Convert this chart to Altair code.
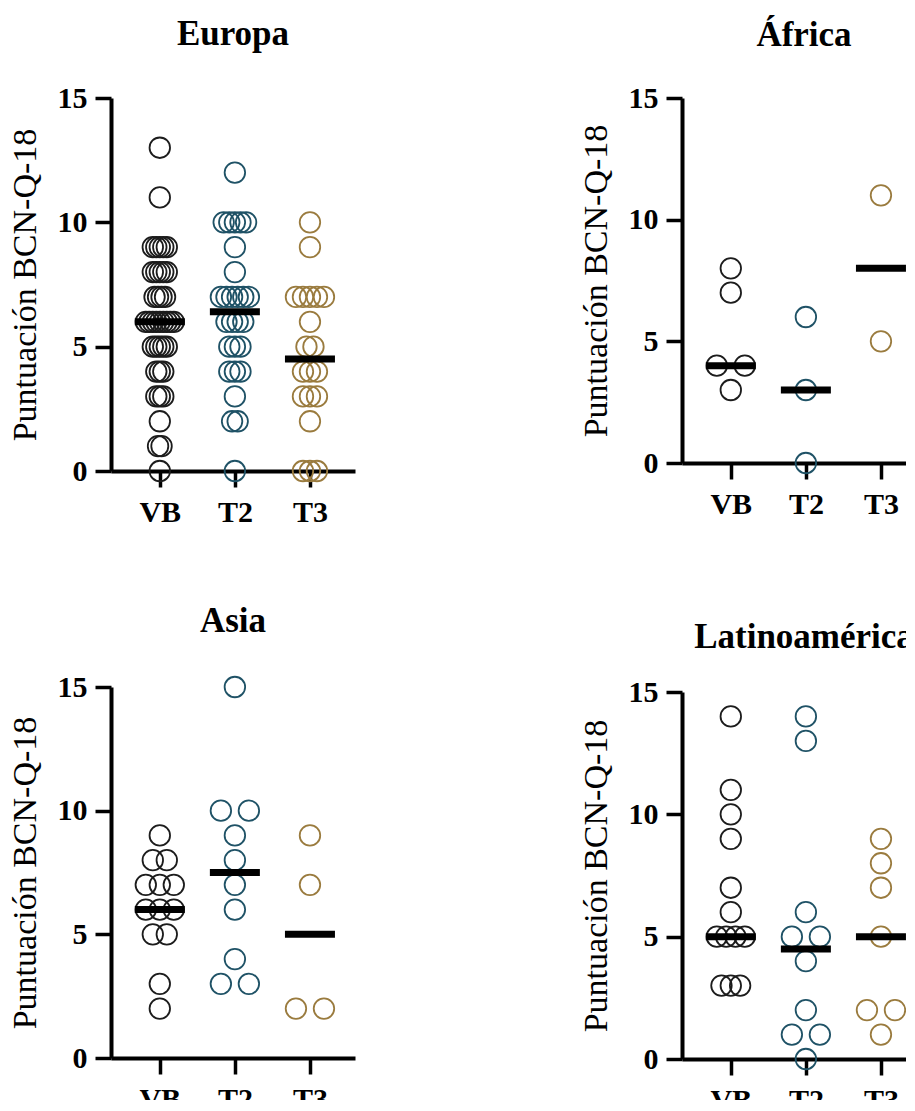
import altair as alt
import pandas as pd

# ---------------- data ----------------
grupos = ["VB", "T2", "T3"]
colores = ["#1c1c1c", "#1f5266", "#9a7b3e"]

europa_vb = [13, 11, 9, 9, 9, 9, 9, 8, 8, 8, 8, 8, 7, 7, 7, 7, 6, 6, 6, 6, 6, 6, 6, 6, 6,
             5, 5, 5, 5, 5, 4, 4, 4, 3, 3, 3, 2, 1, 1, 0]
europa_t2 = [12, 10, 10, 10, 10, 10, 9, 8, 7, 7, 7, 7, 7, 7, 6, 6, 6, 6, 5, 5, 5, 4, 4, 4,
             3, 2, 2, 0]
europa_t3 = [10, 9, 7, 7, 7, 7, 7, 6, 5, 5, 4, 4, 4, 3, 3, 3, 2, 0, 0, 0]
europa_med = [6, 6.4, 4.5]

africa_vb = [8, 7, 4, 4, 3]
africa_t2 = [6, 3, 0]
africa_t3 = [11, 5]
africa_med = [4, 3, 8]

asia_vb = [9, 8, 8, 7, 7, 7, 6, 6, 6, 5, 5, 3, 2]
asia_t2 = [15, 10, 10, 9, 8, 7, 6, 4, 3, 3]
asia_t3 = [9, 7, 2, 2]
asia_med = [6, 7.5, 5]

latam_vb = [14, 11, 10, 9, 7, 6, 5, 5, 5, 5, 3, 3, 3]
latam_t2 = [14, 13, 6, 5, 5, 4, 2, 1, 1, 0]
latam_t3 = [9, 8, 7, 5, 2, 2, 1]
latam_med = [5, 4.5, 5]

y_ticks = [0, 5, 10, 15]
y_title = "Puntuación BCN-Q-18"

# ---------------- layout constants ----------------
FONT = "Liberation Serif"
PANEL_W = 244
X_DOM = [0.35, 3.6]
PX_PER_UNIT = PANEL_W / (X_DOM[1] - X_DOM[0])
SWARM_W = 28  # px spread of widest row


def build_points(series):
    rows = []
    for pos, (g, vals) in enumerate(zip(grupos, series), start=1):
        counts = {}
        for v in vals:
            counts[v] = counts.get(v, 0) + 1
        maxk = max(counts.values())
        step = SWARM_W / (maxk - 1) if maxk > 1 else 0
        seen = {}
        for v in vals:
            i = seen.get(v, 0)
            seen[v] = i + 1
            k = counts[v]
            off = (i - (k - 1) / 2) * step
            rows.append({"grupo": g, "pos": pos, "valor": v,
                         "xj": pos + off / PX_PER_UNIT})
    return pd.DataFrame(rows)


def build_medians(meds):
    half = 25 / PX_PER_UNIT
    return pd.DataFrame({"grupo": grupos, "mediana": meds,
                         "x1": [p - half for p in (1, 2, 3)],
                         "x2": [p + half for p in (1, 2, 3)]})


def panel(title, series, meds, height, title_offset):
    pts = build_points(series)
    md = build_medians(meds)
    xscale = alt.Scale(domain=X_DOM, nice=False, zero=False)
    yscale = alt.Scale(domain=[0, 15], nice=False)
    xaxis = alt.Axis(values=[1, 2, 3], title=None, grid=False,
                     labelExpr="datum.value == 1 ? 'VB' : datum.value == 2 ? 'T2' : 'T3'",
                     labelPadding=10)
    yaxis = alt.Axis(values=y_ticks, title=y_title, grid=False)
    points = alt.Chart(pts).mark_point(shape="circle", filled=False, size=420,
                                       strokeWidth=1.8, opacity=1).encode(
        x=alt.X("xj:Q", scale=xscale, axis=xaxis),
        y=alt.Y("valor:Q", scale=yscale, axis=yaxis),
        stroke=alt.Stroke("grupo:N", scale=alt.Scale(domain=grupos, range=colores),
                          legend=None),
    )
    rules = alt.Chart(md).mark_rule(color="black", strokeWidth=7).encode(
        x="x1:Q", x2="x2:Q", y="mediana:Q")
    return alt.layer(points, rules).properties(
        width=PANEL_W, height=height,
        title=alt.TitleParams(title, font=FONT, fontSize=35, fontWeight="bold",
                              anchor="middle", offset=title_offset, color="black"))


europa = panel("Europa", [europa_vb, europa_t2, europa_t3], europa_med, 373, 31)
africa = panel("África", [africa_vb, africa_t2, africa_t3], africa_med, 365, 30)
asia = panel("Asia", [asia_vb, asia_t2, asia_t3], asia_med, 371, 33)
latam = panel("Latinoamérica", [latam_vb, latam_t2, latam_t3], latam_med, 367, 22)

col1 = alt.vconcat(europa, asia, spacing=77)
col2 = alt.vconcat(africa, latam, spacing=101)

chart = alt.hconcat(col1, col2, spacing=224).properties(
    padding={"left": 0, "top": 9, "right": -20, "bottom": -15}
).configure_view(stroke=None).configure_axis(
    domainColor="black", domainWidth=4, tickColor="black", tickWidth=3.5, tickSize=16,
    labelFont=FONT, labelFontSize=30, labelFontWeight="bold", labelColor="black",
    titleFont=FONT, titleFontSize=34, titleFontWeight="normal", titleColor="black",
    labelPadding=8, titlePadding=15,
)

chart.save("out.html", embed_options={"renderer": "svg", "actions": False})
